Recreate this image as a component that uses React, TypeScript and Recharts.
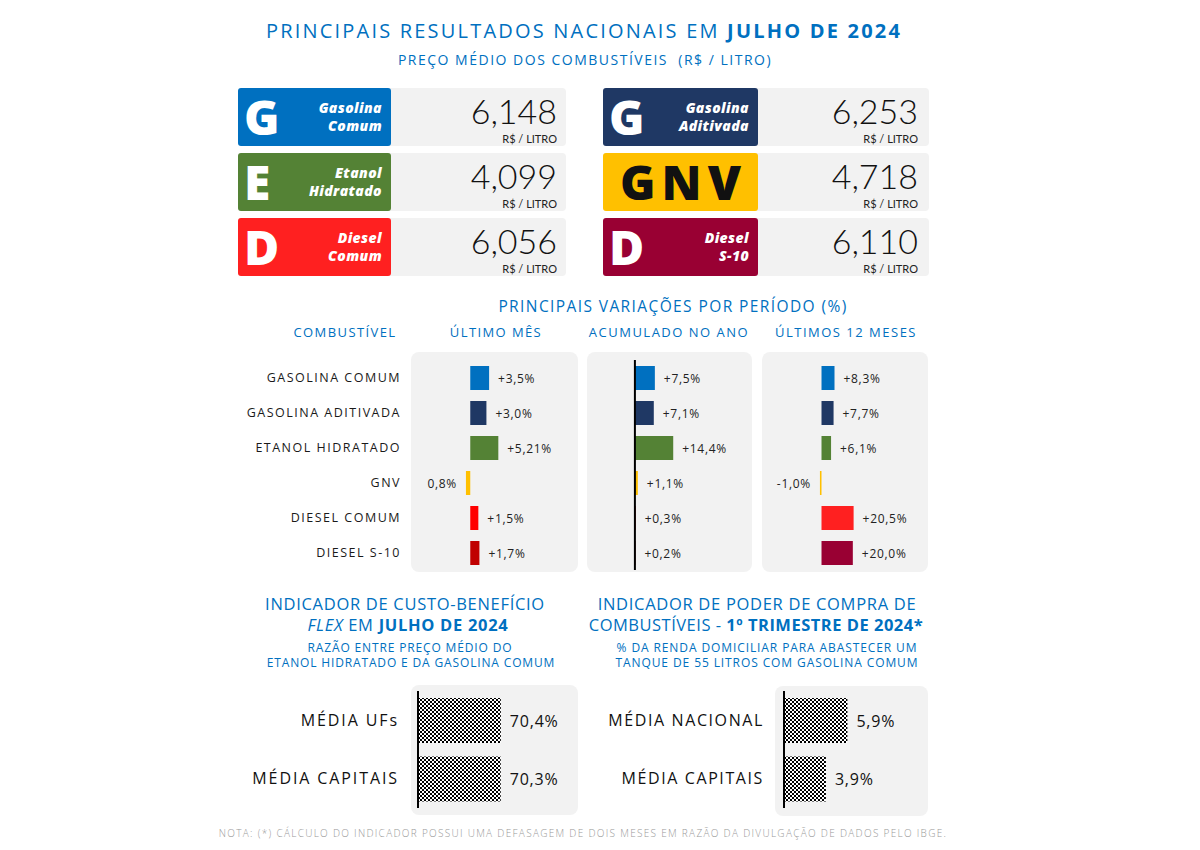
import React from 'react';
import { BarChart, Bar, XAxis, YAxis, Cell, LabelList, ReferenceLine } from 'recharts';

const BLUE = '#0070C0';
const FONT = '"Open Sans", sans-serif';

// preços médios (R$/litro)
const cardLetters = ['G', 'E', 'D', 'G', 'GNV', 'D'];
const cardLine1 = ['Gasolina', 'Etanol', 'Diesel', 'Gasolina', '', 'Diesel'];
const cardLine2 = ['Comum', 'Hidratado', 'Comum', 'Aditivada', '', 'S-10'];
const cardColors = ['#0070C0', '#548235', '#FF2020', '#1F3864', '#FFC000', '#990033'];
const prices = [6.148, 4.099, 6.056, 6.253, 4.718, 6.11];

// variações por período (%)
const fuels = ['GASOLINA COMUM', 'GASOLINA ADITIVADA', 'ETANOL HIDRATADO', 'GNV', 'DIESEL COMUM', 'DIESEL  S-10'];
const lastMonth = [3.5, 3.0, 5.21, -0.8, 1.5, 1.7];
const lastMonthLabels = ['+3,5%', '+3,0%', '+5,21%', '0,8%', '+1,5%', '+1,7%'];
const lastMonthColors = ['#0070C0', '#1F3864', '#548235', '#FFC000', '#FF0000', '#C00000'];
const yearToDate = [7.5, 7.1, 14.4, 1.1, 0.3, 0.2];
const yearToDateLabels = ['+7,5%', '+7,1%', '+14,4%', '+1,1%', '+0,3%', '+0,2%'];
const yearToDateColors = ['#0070C0', '#1F3864', '#548235', '#FFC000', '#FF0000', '#C00000'];
const last12 = [8.3, 7.7, 6.1, -1.0, 20.5, 20.0];
const last12Labels = ['+8,3%', '+7,7%', '+6,1%', '-1,0%', '+20,5%', '+20,0%'];
const last12Colors = ['#0070C0', '#1F3864', '#548235', '#FFC000', '#FF2020', '#990033'];

// indicadores
const flexCategories = ['MÉDIA UFs', 'MÉDIA CAPITAIS'];
const flexValues = [70.4, 70.3];
const flexLabels = ['70,4%', '70,3%'];
const powerCategories = ['MÉDIA NACIONAL', 'MÉDIA CAPITAIS'];
const powerValues = [5.9, 3.9];
const powerLabels = ['5,9%', '3,9%'];

type TxtProps = {
  x: number;
  y: number;
  size: number;
  align?: 'center' | 'left' | 'right';
  color?: string;
  weight?: number;
  italic?: boolean;
  spacing?: number;
  family?: string;
  lh?: number;
  children: React.ReactNode;
};

const Txt = ({ x, y, size, align = 'center', color = BLUE, weight = 400, italic, spacing = 0, family = FONT, lh = 1.2, children }: TxtProps) => {
  const w = 900;
  const left = align === 'center' ? x - w / 2 : align === 'left' ? x : x - w;
  return (
    <div
      style={{
        position: 'absolute',
        left,
        top: y - (size * lh) / 2,
        width: w,
        height: size * lh,
        lineHeight: `${size * lh}px`,
        fontSize: size,
        textAlign: align,
        color,
        fontWeight: weight,
        fontStyle: italic ? 'italic' : 'normal',
        letterSpacing: spacing,
        whiteSpace: 'nowrap',
        fontFamily: family,
      }}
    >
      {children}
    </div>
  );
};

const Panel = ({ x, y, w, h }: { x: number; y: number; w: number; h: number }) => (
  <div style={{ position: 'absolute', left: x, top: y, width: w, height: h, background: '#F2F2F2', borderRadius: 8 }} />
);

const makeLabel = (labels: string[], values: number[], fontSize: number, offset: number, color: string, spacing: number) => (props: any) => {
  const { x, y, width, height, value, index } = props;
  const i = typeof index === 'number' ? index : values.indexOf(Number(value));
  const x0 = Number(x);
  const w = Number(width);
  const lo = Math.min(x0, x0 + w);
  const hi = Math.max(x0, x0 + w);
  const neg = values[i] < 0;
  return (
    <text
      key={i}
      x={neg ? lo - offset : hi + offset}
      y={Number(y) + Number(height) / 2}
      textAnchor={neg ? 'end' : 'start'}
      dominantBaseline="central"
      fontSize={fontSize}
      fill={color}
      fontFamily={FONT}
      letterSpacing={spacing}
    >
      {labels[i]}
    </text>
  );
};

const PriceCard = ({ i }: { i: number }) => {
  const right = i >= 3;
  const tagX = right ? 603 : 238;
  const tagW = right ? 155 : 153;
  const boxRight = right ? 929 : 566;
  const valueRight = right ? 918 : 557;
  const rowY = [88, 153, 218][i % 3];
  const isGnv = cardLetters[i] === 'GNV';
  return (
    <>
      <div style={{ position: 'absolute', left: tagX, top: rowY, width: boxRight - tagX, height: 58, background: '#F2F2F2', borderRadius: 4 }} />
      <div style={{ position: 'absolute', left: tagX, top: rowY, width: tagW, height: 58, background: cardColors[i], borderRadius: 3 }}>
        {isGnv ? (
          <div style={{ position: 'absolute', left: 0, top: 0, width: tagW, height: 58, lineHeight: '58px', textAlign: 'center', fontFamily: FONT, fontWeight: 800, fontSize: 48, color: '#111', letterSpacing: 6, textIndent: 6 }}>
            GNV
          </div>
        ) : (
          <>
            <div style={{ position: 'absolute', left: 6, top: 0, height: 58, lineHeight: '58px', fontFamily: FONT, fontWeight: 800, fontSize: 48, color: '#fff' }}>
              {cardLetters[i]}
            </div>
            <div style={{ position: 'absolute', right: 9, top: 11, textAlign: 'right', fontFamily: FONT, fontWeight: 800, fontStyle: 'italic', fontSize: 14, lineHeight: '18px', color: '#fff', letterSpacing: 0.4 }}>
              <div>{cardLine1[i]}</div>
              <div>{cardLine2[i]}</div>
            </div>
          </>
        )}
      </div>
      <Txt x={valueRight} y={rowY + 22.8} size={34} lh={0.9} align="right" color="#111" weight={300} family='"Lato", sans-serif'>
        {prices[i].toFixed(3).replace('.', ',')}
      </Txt>
      <Txt x={valueRight} y={rowY + 50.3} size={11} lh={1} align="right" color="#222" weight={400} family='"Lato", sans-serif'>
        R$ / LITRO
      </Txt>
    </>
  );
};

type VarProps = {
  values: number[];
  labels: string[];
  colors: string[];
  domain: [number, number];
  left: number;
  width: number;
  yAxisWidth?: number;
  axisLine?: boolean;
};

const VariationChart = ({ values, labels, colors, domain, left, width, yAxisWidth = 0, axisLine }: VarProps) => {
  const data = fuels.map((name, i) => ({ name, value: values[i] }));
  return (
    <div style={{ position: 'absolute', left, top: 352 }}>
      <BarChart width={width} height={220} data={data} layout="vertical" margin={{ top: 8, right: 0, bottom: 2, left: 0 }}>
        <XAxis type="number" domain={domain} hide allowDataOverflow />
        <YAxis
          type="category"
          dataKey="name"
          width={yAxisWidth}
          hide={!yAxisWidth}
          axisLine={false}
          tickLine={false}
          tickSize={0}
          tickMargin={10}
          interval={0}
          tick={{ fontSize: 12.5, fill: '#1a1a1a', fontFamily: FONT, letterSpacing: 1.5 }}
        />
        <Bar dataKey="value" barSize={24} isAnimationActive={false}>
          {data.map((d, i) => (
            <Cell key={d.name} fill={colors[i]} />
          ))}
          <LabelList dataKey="value" content={makeLabel(labels, values, 12, 9, '#222', 0.7)} />
        </Bar>
        {axisLine && <ReferenceLine x={0} stroke="#000" strokeWidth={2} />}
      </BarChart>
    </div>
  );
};

type HatchProps = {
  id: string;
  categories: string[];
  values: number[];
  labels: string[];
  domain: [number, number];
  left: number;
  yAxisWidth: number;
  tickMargin: number;
  spacing: number;
};

const HatchChart = ({ id, categories, values, labels, domain, left, yAxisWidth, tickMargin, spacing }: HatchProps) => {
  const data = categories.map((name, i) => ({ name, value: values[i] }));
  return (
    <div style={{ position: 'absolute', left, top: 685 }}>
      <BarChart width={348} height={130} data={data} layout="vertical" margin={{ top: 6, right: 0, bottom: 7, left: 0 }}>
        <defs>
          <pattern id={id} width={4} height={4} patternUnits="userSpaceOnUse">
            <rect width={4} height={4} fill="#fff" />
            <rect width={2} height={2} fill="#000" />
            <rect x={2} y={2} width={2} height={2} fill="#000" />
          </pattern>
        </defs>
        <XAxis type="number" domain={domain} hide allowDataOverflow />
        <YAxis
          type="category"
          dataKey="name"
          width={yAxisWidth}
          axisLine={false}
          tickLine={false}
          tickSize={0}
          tickMargin={tickMargin}
          interval={0}
          tick={{ fontSize: 16, fill: '#111', fontFamily: FONT, letterSpacing: spacing }}
        />
        <Bar dataKey="value" barSize={45} fill={`url(#${id})`} isAnimationActive={false}>
          <LabelList dataKey="value" content={makeLabel(labels, values, 16, 9, '#111', 0.8)} />
        </Bar>
        <ReferenceLine x={0} stroke="#000" strokeWidth={2} />
      </BarChart>
    </div>
  );
};

const App: React.FC = () => {
  return (
    <div style={{ position: 'absolute', left: 0, top: 0, width: 1200, height: 850, background: '#fff', fontFamily: FONT, overflow: 'hidden' }}>
      <Txt x={584} y={31} size={20} spacing={2.2}>
        PRINCIPAIS RESULTADOS NACIONAIS EM <b>JULHO DE 2024</b>
      </Txt>
      <Txt x={585} y={60} size={14} spacing={1.5}>
        PREÇO MÉDIO DOS COMBUSTÍVEIS&nbsp;&nbsp;(R$ / LITRO)
      </Txt>

      {prices.map((p, i) => (
        <PriceCard key={i} i={i} />
      ))}

      <Txt x={673} y={306} size={15.5} spacing={1.4}>PRINCIPAIS VARIAÇÕES POR PERÍODO (%)</Txt>
      <Txt x={345} y={333} size={13} spacing={1.4}>COMBUSTÍVEL</Txt>
      <Txt x={496} y={333} size={13} spacing={1.4}>ÚLTIMO MÊS</Txt>
      <Txt x={669} y={333} size={13} spacing={1.5}>ACUMULADO NO ANO</Txt>
      <Txt x={846} y={333} size={13} spacing={1.5}>ÚLTIMOS 12 MESES</Txt>

      <Panel x={411} y={352} w={167} h={220} />
      <Panel x={587} y={352} w={165} h={220} />
      <Panel x={762} y={352} w={166} h={220} />

      <VariationChart values={lastMonth} labels={lastMonthLabels} colors={lastMonthColors} domain={[-11, 20]} left={230} width={348} yAxisWidth={181} />
      <VariationChart values={yearToDate} labels={yearToDateLabels} colors={yearToDateColors} domain={[-18, 44]} left={587} width={165} axisLine />
      <VariationChart values={last12} labels={last12Labels} colors={last12Colors} domain={[-38, 68]} left={762} width={166} />

      <Txt x={405} y={604} size={16.5} spacing={0.7}>INDICADOR DE CUSTO-BENEFÍCIO</Txt>
      <Txt x={408} y={625} size={16.5} spacing={0.7}>
        <i>FLEX</i> EM <b>JULHO DE 2024</b>
      </Txt>
      <Txt x={410} y={648} size={12} spacing={0.85}>RAZÃO ENTRE PREÇO MÉDIO DO</Txt>
      <Txt x={411} y={663} size={12} spacing={0.85}>ETANOL HIDRATADO E DA GASOLINA COMUM</Txt>

      <Txt x={757} y={604} size={16.5} spacing={0.7}>INDICADOR DE PODER DE COMPRA DE</Txt>
      <Txt x={756} y={625} size={16.5} spacing={0.5}>
        COMBUSTÍVEIS - <b>1º TRIMESTRE DE 2024*</b>
      </Txt>
      <Txt x={767} y={648} size={12} spacing={0.9}>% DA RENDA DOMICILIAR PARA ABASTECER UM</Txt>
      <Txt x={767} y={663} size={12} spacing={0.9}>TANQUE DE 55 LITROS COM GASOLINA COMUM</Txt>

      <Panel x={411} y={685} w={167} h={130} />
      <Panel x={775} y={686} w={153} h={130} />

      <HatchChart id="hatchFlex" categories={flexCategories} values={flexValues} labels={flexLabels} domain={[0, 136]} left={230} yAxisWidth={188} tickMargin={19} spacing={1.9} />
      <HatchChart id="hatchPower" categories={powerCategories} values={powerValues} labels={powerLabels} domain={[0, 13.4]} left={580} yAxisWidth={204} tickMargin={20} spacing={1.6} />

      <Txt x={583} y={833} size={10} color="#999" weight={300} spacing={1.3}>
        NOTA: (*) CÁLCULO DO INDICADOR POSSUI UMA DEFASAGEM DE DOIS MESES EM RAZÃO DA DIVULGAÇÃO DE DADOS PELO IBGE.
      </Txt>
    </div>
  );
};

export default App;
